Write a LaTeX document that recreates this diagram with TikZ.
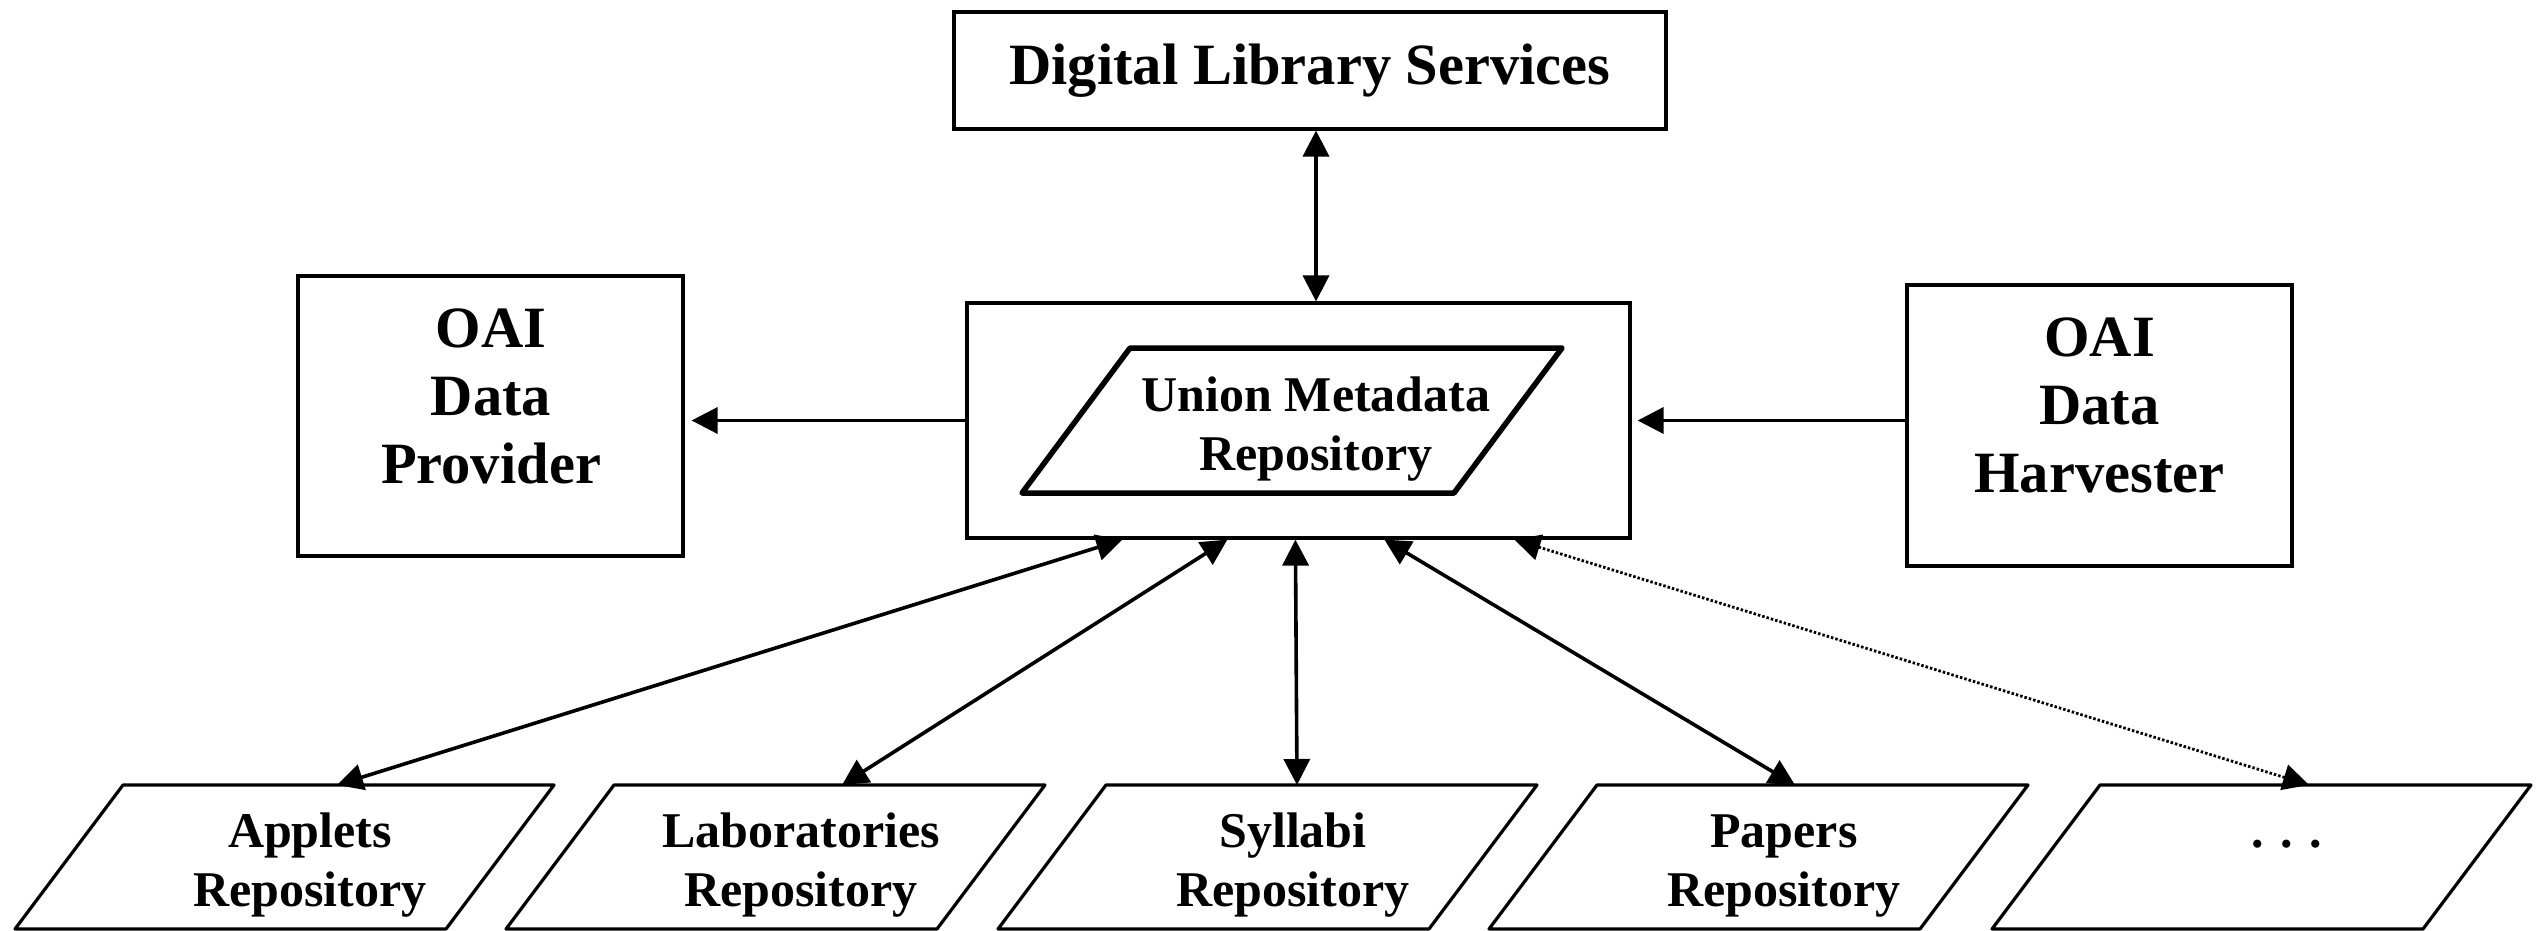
\documentclass[tikz,border=0pt]{standalone}
\usepackage{fontspec}
\setmainfont{Liberation Serif}
\usetikzlibrary{arrows.meta,calc}
\newcommand{\mlines}[1]{\begin{tabular}[t]{@{}c@{}}#1\end{tabular}}
\begin{document}
\begin{tikzpicture}[x=1pt,y=-1pt,
  box/.style={draw, line width=3.2pt, rectangle, inner sep=0pt},
  bigtxt/.style={font={\bfseries\fontsize{58.5}{68}\selectfont}, anchor=base, inner sep=0pt},
  smtxt/.style={font={\bfseries\fontsize{50}{59}\selectfont}, anchor=base, inner sep=0pt},
  conn/.style={line width=3.6pt, {Triangle[length=26pt,width=26pt]}-{Triangle[length=26pt,width=26pt]}},
  oneway/.style={line width=3.6pt, -{Triangle[length=26pt,width=26pt]}},
  dotconn/.style={conn, line width=2.8pt, dash pattern=on 2.5pt off 2pt},
  para/.style={draw, line width=3.2pt, line join=round},
  thickpara/.style={draw, line width=5.5pt, line join=round}]
\useasboundingbox (0,0) rectangle (2543,931);

% top box
\node[box, minimum width=712pt, minimum height=117pt] (dlsbox) at (1310,70.5) {};
\node[bigtxt] (dls) at (1310,85) {Digital Library Services};

% union box
\node[box, minimum width=663pt, minimum height=235pt] (union) at (1298.5,420.5) {};
\draw[thickpara] (1130,348) -- (1562,348) -- (1454,493) -- (1022,493) -- cycle;
\node[smtxt] (umr) at (1316,411) {\mlines{Union Metadata\\Repository}};

% side boxes
\node[box, minimum width=385pt, minimum height=280pt] (prov) at (490.5,416) {};
\node[bigtxt] (provt) at (491,347) {\mlines{OAI\\Data\\Provider}};
\node[box, minimum width=385pt, minimum height=281pt] (harv) at (2099.5,425.5) {};
\node[bigtxt] (harvt) at (2099.5,356) {\mlines{OAI\\Data\\Harvester}};

% bottom repositories
\draw[para] (123,785) -- (554,785) -- (446,929) -- (15,929) -- cycle;
\node[smtxt] (app) at (310,847) {\mlines{Applets\\Repository}};
\draw[para] (614,785) -- (1045,785) -- (937,929) -- (506,929) -- cycle;
\node[smtxt] (lab) at (801,847) {\mlines{Laboratories\\Repository}};
\draw[para] (1106,785) -- (1537,785) -- (1429,929) -- (998,929) -- cycle;
\node[smtxt] (syl) at (1293,847) {\mlines{Syllabi\\Repository}};
\draw[para] (1597,785) -- (2028,785) -- (1920,929) -- (1489,929) -- cycle;
\node[smtxt] (pap) at (1784,847) {\mlines{Papers\\Repository}};
\draw[para] (2100,785) -- (2531,785) -- (2423,929) -- (1992,929) -- cycle;
\node[smtxt] (dots) at (2287,847) {. . .};

% connector end points
\coordinate (u1) at ($(union.south west)+(157,0)$);
\coordinate (u2) at ($(union.south west)+(262,0)$);
\coordinate (u3) at ($(union.south west)+(330,0)$);
\coordinate (u4) at ($(union.south west)+(419,0)$);
\coordinate (u5) at ($(union.south west)+(549,0)$);
\coordinate (b1) at (337,785);
\coordinate (b2) at (842,785);
\coordinate (b3) at (1297,785);
\coordinate (b4) at (1795,785);
\coordinate (b5) at (2309,785);

% connectors
\draw[conn] (dlsbox.south -| umr) -- (union.north -| umr);
\draw[oneway, shorten >=7pt] (union.west) -- (union.west -| prov.east);
\draw[oneway, shorten >=6pt] (harv.west |- union.east) -- (union.east);
\draw[conn] (u1) -- (b1);
\draw[conn] (u2) -- (b2);
\draw[conn] (u3) -- (b3);
\draw[conn] (u4) -- (b4);
\draw[dotconn] (u5) -- (b5);
\end{tikzpicture}
\end{document}
